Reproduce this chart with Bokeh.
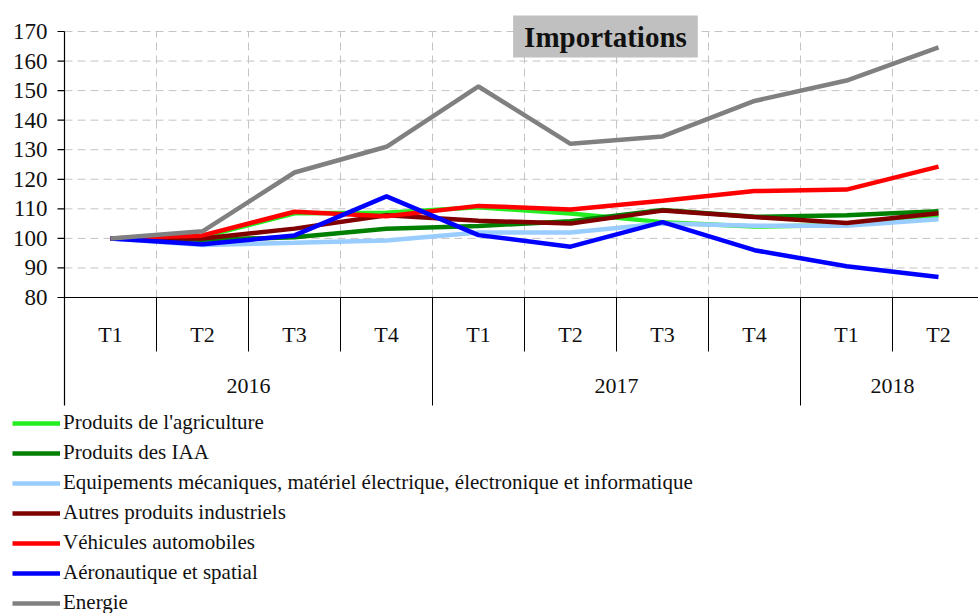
from bokeh.plotting import figure
from bokeh.models import Range1d, Legend, LegendItem, Label
from bokeh.core.properties import value
from bokeh.embed import file_html
from bokeh.resources import INLINE

quarters = ["T1", "T2", "T3", "T4", "T1", "T2", "T3", "T4", "T1", "T2"]
years = ["2016", "2017", "2018"]
year_counts = [4, 4, 2]
y_ticks = [80, 90, 100, 110, 120, 130, 140, 150, 160, 170]

names = [
    "Produits de l'agriculture",
    "Produits des IAA",
    "Equipements mécaniques, matériel électrique, électronique et informatique",
    "Autres produits industriels",
    "Véhicules automobiles",
    "Aéronautique et spatial",
    "Energie",
]
agriculture = [100, 100.5, 108.5, 108.7, 110.5, 108.4, 105.5, 104.0, 104.5, 107.6]
iaa = [100, 99.5, 100.4, 103.3, 104.2, 105.8, 109.6, 107.3, 107.8, 109.2]
equipements = [100, 97.8, 98.5, 99.3, 102.0, 102.0, 105.0, 104.3, 104.3, 106.5]
autres = [100, 100.0, 103.3, 107.8, 106.0, 105.0, 109.4, 107.2, 105.2, 108.5]
vehicules = [100, 101.0, 109.0, 107.5, 111.0, 109.8, 112.7, 116.0, 116.5, 124.3]
aeronautique = [100, 98.0, 101.0, 114.2, 101.1, 97.2, 105.5, 96.0, 90.6, 86.9]
energie = [100, 102.4, 122.3, 131.0, 151.4, 132.0, 134.5, 146.5, 153.4, 164.6]
series = [agriculture, iaa, equipements, autres, vehicules, aeronautique, energie]
colors = ["#22ee22", "#008000", "#99ccff", "#800000", "#ff0000", "#0000ff", "#808080"]

FONT = "Liberation Serif"
W, H = 978, 613
PLOT_LEFT, PLOT_TOP = 64, 31
BAND = 92.0
PPU = 266 / 90.0  # pixels per value unit
y_top_val = 170 + PLOT_TOP / PPU
y_bot_val = 170 - (H - PLOT_TOP) / PPU
x_left = -0.5 - PLOT_LEFT / BAND
x_right = -0.5 + (W - PLOT_LEFT) / BAND
y_axis_low = 80 - 108 / PPU   # bottom of the category area

p = figure(width=W, height=H, output_backend="svg", toolbar_location=None,
           x_range=Range1d(x_left, x_right), y_range=Range1d(y_bot_val, y_top_val),
           x_axis_type=None, y_axis_type=None,
           min_border_left=0, min_border_right=0, min_border_top=0, min_border_bottom=0)
p.outline_line_color = None
p.grid.visible = False

n = len(quarters)
xs = list(range(n))

# horizontal dashed grid
gy = y_ticks[1:]
p.segment(x0=[-0.5] * len(gy), y0=gy, x1=[x_right] * len(gy), y1=gy,
          line_color="#c4c4c4", line_dash="8 5", line_width=1)
# vertical dashed grid at category boundaries
bounds = [i + 0.5 for i in range(n - 1)]
p.segment(x0=bounds, y0=[80] * len(bounds), x1=bounds, y1=[170] * len(bounds),
          line_color="#c4c4c4", line_dash="8 5", line_width=1)

# y axis: line, ticks, labels
p.segment(x0=[-0.5], y0=[y_axis_low], x1=[-0.5], y1=[170], line_color="black", line_width=1.2)
tick_len = 7 / BAND
p.segment(x0=[-0.5 - tick_len] * len(y_ticks), y0=y_ticks, x1=[-0.5] * len(y_ticks), y1=y_ticks,
          line_color="black", line_width=1.2)
p.text(x=[-0.5 - 17 / BAND] * len(y_ticks), y=y_ticks, text=[str(t) for t in y_ticks],
       text_font=value(FONT), text_font_size="23px", text_align="right",
       text_baseline="middle", text_color="#111111")

# x axis line
p.segment(x0=[-0.5], y0=[80], x1=[x_right], y1=[80], line_color="black", line_width=1.2)

# category separators
year_bounds = []
acc = 0
for c in year_counts[:-1]:
    acc += c
    year_bounds.append(acc - 0.5)
q_bounds = [b for b in bounds if b not in year_bounds]
q_low = 80 - 54 / PPU
p.segment(x0=q_bounds, y0=[80] * len(q_bounds), x1=q_bounds, y1=[q_low] * len(q_bounds),
          line_color="black", line_width=1)
p.segment(x0=year_bounds, y0=[80] * len(year_bounds), x1=year_bounds, y1=[y_axis_low] * len(year_bounds),
          line_color="black", line_width=1)

# category labels
p.text(x=xs, y=[80 - 37 / PPU] * n, text=quarters, text_font=value(FONT),
       text_font_size="22px", text_align="center", text_baseline="middle", text_color="#111111")
year_centers = []
acc = 0
for c in year_counts:
    year_centers.append(acc + (c - 1) / 2.0)
    acc += c
p.text(x=year_centers, y=[80 - 88 / PPU] * len(years), text=years, text_font=value(FONT),
       text_font_size="22px", text_align="center", text_baseline="middle", text_color="#111111")

items = []
for name, vals, col in zip(names, series, colors):
    r = p.line(x=xs, y=vals, line_color=col, line_width=4.5)
    items.append(LegendItem(label=name, renderers=[r]))

legend = Legend(items=items, location=(12, -2), orientation="vertical",
                label_text_font=FONT, label_text_font_size="21px", label_text_color="#111111",
                glyph_width=48, glyph_height=20, label_standoff=3, spacing=5, label_height=24,
                padding=0, margin=0, border_line_color=None, background_fill_alpha=0)
p.add_layout(legend, "center")

title = Label(x=5.38, y=170 - 5 / PPU, text="Importations", text_font=FONT,
              text_font_size="29px", text_font_style="bold", text_color="#111111",
              text_align="center", text_baseline="middle",
              background_fill_color="#c0c0c0", padding=dict(left=11, right=11, top=5, bottom=5))
p.add_layout(title)

open("out.html", "w").write(file_html(p, INLINE))
